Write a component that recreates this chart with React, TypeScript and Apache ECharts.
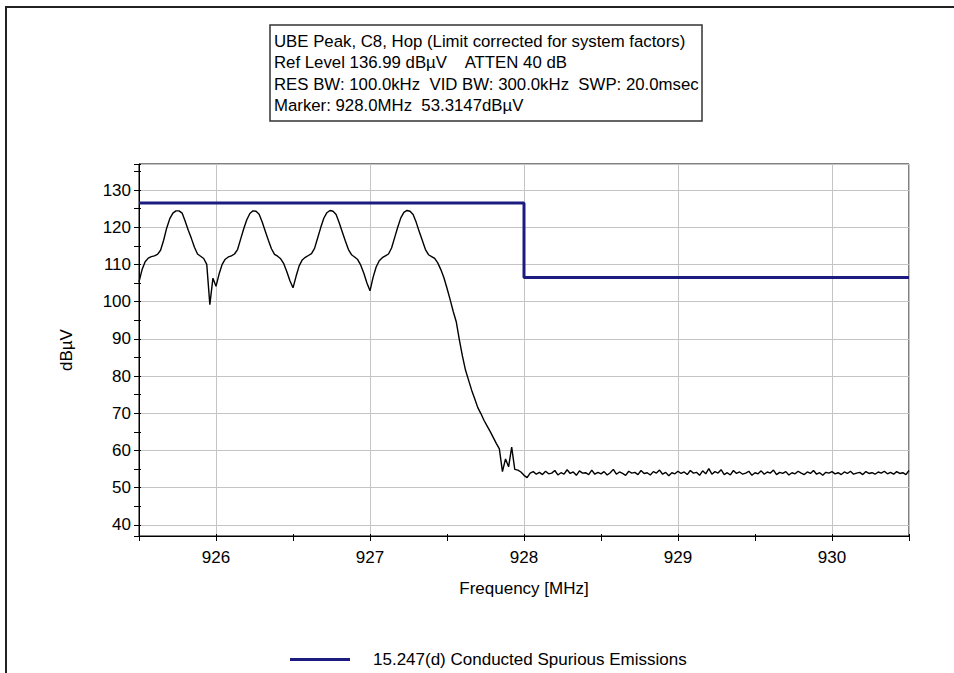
import { useEffect, useRef } from "react";
import * as echarts from "echarts";

// Spectrum analyser sweep: 925.50 .. 930.50 MHz, one reading every 20 kHz
const SWEEP_START_MHZ = 925.5;
const SWEEP_STEP_MHZ = 0.02;
const TRACE_DBUV = [
  105.3, 108.6, 110.7, 111.7, 112.1, 112.3, 112.7, 113.8, 116.5, 119.8,
  122.3, 123.8, 124.4, 124.4, 123.8, 121.6, 119.2, 117.0, 114.6, 112.8,
  112.2, 111.6, 110.0, 99.2, 106.3, 104.1, 107.4, 110.0, 111.4, 112.0,
  112.3, 112.8, 114.0, 116.8, 119.6, 122.0, 123.7, 124.4, 124.3, 123.5,
  121.4, 118.9, 116.5, 114.2, 112.7, 112.2, 111.5, 110.2, 108.0, 105.6,
  103.7, 106.8, 109.6, 111.2, 111.9, 112.4, 112.9, 114.3, 117.1, 119.9,
  122.4, 123.9, 124.5, 124.3, 123.4, 121.2, 118.7, 116.3, 114.0, 112.6,
  112.0, 111.3, 109.8, 107.6, 105.0, 102.9, 106.5, 109.3, 111.0, 111.8,
  112.3, 112.8, 114.4, 117.2, 120.0, 122.5, 124.0, 124.5, 124.3, 123.4,
  121.3, 118.8, 116.4, 114.0, 112.6, 112.1, 111.6, 110.4, 108.6, 106.4,
  103.6, 100.6, 97.4, 94.6, 89.8, 85.4, 81.6, 78.9, 76.2, 73.9,
  71.5, 69.9, 68.1, 66.6, 65.1, 63.5, 61.9, 60.4, 54.3, 57.7,
  55.6, 60.9, 54.9, 54.7, 54.2, 53.3, 52.7, 53.9, 54.3, 53.6,
  54.1, 53.5, 54.4, 53.7, 53.9, 54.6, 53.4, 54.0, 53.6, 54.8,
  53.8, 54.2, 53.3, 54.5, 53.9, 54.0, 53.5, 54.7, 53.6, 54.1,
  53.7, 54.3, 53.4, 54.0, 54.9, 53.6, 54.2, 53.8, 53.3, 54.4,
  53.9, 54.1, 53.5, 54.6, 53.8, 54.0, 53.4, 54.3, 53.9, 54.7,
  53.6, 54.1, 53.2, 54.0, 53.7, 54.4, 53.8, 54.2, 53.5, 54.6,
  53.9, 54.1, 53.3, 54.5, 53.7, 55.1, 53.6, 54.3, 53.9, 54.8,
  53.5, 54.0, 53.4, 54.6, 53.8, 54.2, 53.6, 53.9, 54.4, 53.3,
  54.0, 53.7, 54.5, 53.6, 54.2, 53.9, 54.7, 53.5, 54.1, 53.8,
  54.3, 53.4, 54.0, 53.7, 54.4, 53.9, 53.5, 54.2, 53.8, 54.6,
  53.6, 54.0, 53.3, 54.1, 53.9, 54.3, 53.7, 54.0, 53.5, 54.2,
  53.8, 54.4, 53.6, 53.9, 54.1, 53.5, 54.3, 53.8, 54.0, 53.6,
  54.2, 53.9, 54.4, 53.7, 54.1, 53.6, 54.3, 53.8, 54.0, 53.5,
  54.6,
];

// 15.247(d) limit: peak-referenced in band, -20 dB outside
const LIMIT_NAME = "15.247(d) Conducted Spurious Emissions";
const LIMIT_FREQ_MHZ = [925.5, 928.0, 928.0, 930.5];
const LIMIT_DBUV = [126.5, 126.5, 106.5, 106.5];

// Axis extents: 100 dB span below the reference level
const FREQ_RANGE = [925.5, 930.5];
const LEVEL_RANGE = [36.99, 136.99];

const HEADER_LINES = [
  "UBE Peak, C8, Hop (Limit corrected for system factors)",
  "Ref Level 136.99 dBµV    ATTEN 40 dB",
  "RES BW: 100.0kHz  VID BW: 300.0kHz  SWP: 20.0msec",
  "Marker: 928.0MHz  53.3147dBµV",
];

const FONT = '"Liberation Sans", Arial, Helvetica, sans-serif';
const INK = "#000000";
const GRID_GRAY = "#c4c4c4";
const LIMIT_BLUE = "#1c1c80";

function buildOption(): echarts.EChartsOption {
  const traceData = TRACE_DBUV.map((v, i) => [
    Number((SWEEP_START_MHZ + i * SWEEP_STEP_MHZ).toFixed(2)),
    v,
  ]);
  const limitData = LIMIT_FREQ_MHZ.map((f, i) => [f, LIMIT_DBUV[i]]);

  const textStyle = { fontSize: 17, fontFamily: FONT, color: INK };
  const xBase = { type: "value" as const, min: FREQ_RANGE[0], max: FREQ_RANGE[1], position: "bottom" as const };
  const yBase = { type: "value" as const, min: LEVEL_RANGE[0], max: LEVEL_RANGE[1], position: "left" as const };
  const hidden = {
    axisLine: { show: false },
    axisLabel: { show: false },
    splitLine: { show: false },
  };

  const headerTexts = HEADER_LINES.map((line, i) => ({
    type: "text" as const,
    x: 274,
    y: 41 + i * 21.6,
    z: 11,
    style: {
      text: line,
      fontSize: 16.8,
      fontFamily: FONT,
      fill: INK,
      verticalAlign: "middle" as const,
    },
  }));

  return {
    animation: false,
    backgroundColor: "#ffffff",
    grid: {
      left: 139,
      top: 164,
      width: 770,
      height: 372,
      show: true,
      borderColor: INK,
      borderWidth: 1,
      backgroundColor: "transparent",
    },
    legend: {
      data: [LIMIT_NAME],
      left: 285,
      top: 646,
      icon: "rect",
      itemWidth: 60,
      itemHeight: 3,
      selectedMode: false,
      textStyle: { ...textStyle, padding: [0, 0, 0, 18] },
    },
    xAxis: [
      {
        ...xBase,
        splitNumber: 5,
        minInterval: 1,
        maxInterval: 1,
        axisLine: { show: true, onZero: false, lineStyle: { color: INK, width: 1 } },
        axisTick: { show: false },
        axisLabel: { ...textStyle, margin: 13, showMinLabel: false, showMaxLabel: false },
        splitLine: { show: true, lineStyle: { color: GRID_GRAY, width: 1 } },
        name: "Frequency [MHz]",
        nameLocation: "middle",
        nameGap: 44,
        nameTextStyle: textStyle,
      },
      {
        ...xBase,
        interval: 0.5,
        ...hidden,
        axisTick: { show: true, length: 5, lineStyle: { color: INK, width: 1 } },
      },
      {
        ...xBase,
        interval: 0.5,
        ...hidden,
        axisTick: { show: true, inside: true, length: 2, lineStyle: { color: INK, width: 1 } },
      },
    ],
    yAxis: [
      {
        ...yBase,
        splitNumber: 10,
        minInterval: 10,
        maxInterval: 10,
        axisLine: { show: true, onZero: false, lineStyle: { color: INK, width: 1 } },
        axisTick: { show: false },
        axisLabel: { ...textStyle, margin: 8, showMinLabel: false, showMaxLabel: false },
        splitLine: { show: true, lineStyle: { color: GRID_GRAY, width: 1 } },
        name: "dBµV",
        nameLocation: "middle",
        nameGap: 64,
        nameTextStyle: textStyle,
      },
      {
        ...yBase,
        splitNumber: 20,
        minInterval: 5,
        maxInterval: 5,
        ...hidden,
        axisTick: { show: true, length: 5, lineStyle: { color: INK, width: 1 } },
      },
      {
        ...yBase,
        splitNumber: 20,
        minInterval: 5,
        maxInterval: 5,
        ...hidden,
        axisTick: { show: true, inside: true, length: 2, lineStyle: { color: INK, width: 1 } },
      },
    ],
    series: [
      {
        type: "line",
        name: "UBE Peak",
        data: traceData,
        xAxisIndex: 0,
        yAxisIndex: 0,
        symbol: "none",
        showSymbol: false,
        lineStyle: { color: INK, width: 1.4 },
        itemStyle: { color: INK },
        z: 3,
      },
      {
        type: "line",
        name: LIMIT_NAME,
        data: limitData,
        xAxisIndex: 0,
        yAxisIndex: 0,
        symbol: "none",
        showSymbol: false,
        lineStyle: { color: LIMIT_BLUE, width: 3 },
        itemStyle: { color: LIMIT_BLUE },
        z: 4,
      },
    ],
    graphic: [
      {
        type: "rect",
        z: 1,
        silent: true,
        shape: { x: 6, y: 7, width: 1000, height: 1000 },
        style: { fill: "none", stroke: "#222222", lineWidth: 2 },
      },
      {
        type: "rect",
        z: 10,
        shape: { x: 270, y: 25, width: 432, height: 96 },
        style: { fill: "#ffffff", stroke: "#333333", lineWidth: 1.5 },
      },
      ...headerTexts,
    ],
  };
}

export default function App() {
  const ref = useRef<HTMLDivElement>(null);

  useEffect(() => {
    if (!ref.current) return;
    const chart = echarts.init(ref.current, undefined, { renderer: "svg" });
    chart.setOption(buildOption());
    return () => chart.dispose();
  }, []);

  return (
    <div
      ref={ref}
      style={{ position: "absolute", left: 0, top: 0, width: 954, height: 673, background: "#fff" }}
    />
  );
}
